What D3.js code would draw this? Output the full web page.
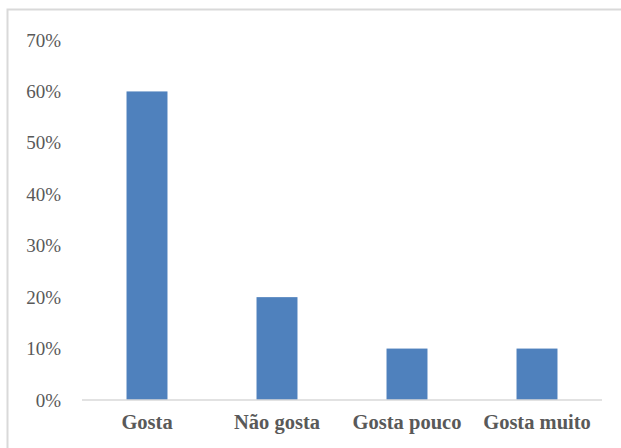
<!DOCTYPE html>
<html>
<head>
<meta charset="utf-8">
<script src="https://cdn.jsdelivr.net/npm/d3@7"></script>
<style>
  body { margin: 0; background: #fff; }
  svg { display: block; }
</style>
</head>
<body>
<svg width="621" height="448"></svg>
<script>
// chart data
var categories = ["Gosta", "Não gosta", "Gosta pouco", "Gosta muito"];
var values = [0.60, 0.20, 0.10, 0.10];
var yTicks = [0, 0.1, 0.2, 0.3, 0.4, 0.5, 0.6, 0.7];

var svg = d3.select("svg"),
    margin = {top: 40, right: 19, bottom: 48, left: 82},
    width = +svg.attr("width") - margin.left - margin.right,
    height = +svg.attr("height") - margin.top - margin.bottom;

// outer frame (runs past the right and bottom edges)
svg.append("rect")
    .attr("x", 7.5).attr("y", 9.5)
    .attr("width", 640).attr("height", 460)
    .attr("fill", "none")
    .attr("stroke", "#d9d9d9")
    .attr("stroke-width", 2);

var x = d3.scaleBand().domain(categories).range([0, width]).paddingInner(0.685).paddingOuter(0.3425),
    y = d3.scaleLinear().domain([0, 0.7]).range([height, 0]);

var g = svg.append("g")
    .attr("transform", "translate(" + margin.left + "," + margin.top + ")");

g.selectAll(".bar").data(values)
  .enter().append("rect")
    .attr("class", "bar")
    .attr("x", function(d, i) { return x(categories[i]); })
    .attr("y", function(d) { return y(d); })
    .attr("width", x.bandwidth())
    .attr("height", function(d) { return height - y(d); })
    .attr("fill", "#4f81bd");

// baseline
g.append("line")
    .attr("x1", 0).attr("x2", width)
    .attr("y1", y(0)).attr("y2", y(0))
    .attr("stroke", "#d9d9d9")
    .attr("stroke-width", 1.5);

var yAxis = g.append("g")
    .call(d3.axisLeft(y).tickValues(yTicks).tickSize(0).tickPadding(21).tickFormat(d3.format(".0%")));
yAxis.select(".domain").remove();
yAxis.selectAll("text")
    .style("font-family", "'Liberation Serif', 'Times New Roman', serif")
    .style("font-size", "19px")
    .attr("fill", "#595959");

var xAxis = g.append("g")
    .attr("transform", "translate(0," + height + ")")
    .call(d3.axisBottom(x).tickSize(0).tickPadding(14));
xAxis.select(".domain").remove();
xAxis.selectAll("text")
    .style("font-family", "'Liberation Serif', 'Times New Roman', serif")
    .style("font-size", "20.5px")
    .style("font-weight", "bold")
    .attr("fill", "#595959");
</script>
</body>
</html>
